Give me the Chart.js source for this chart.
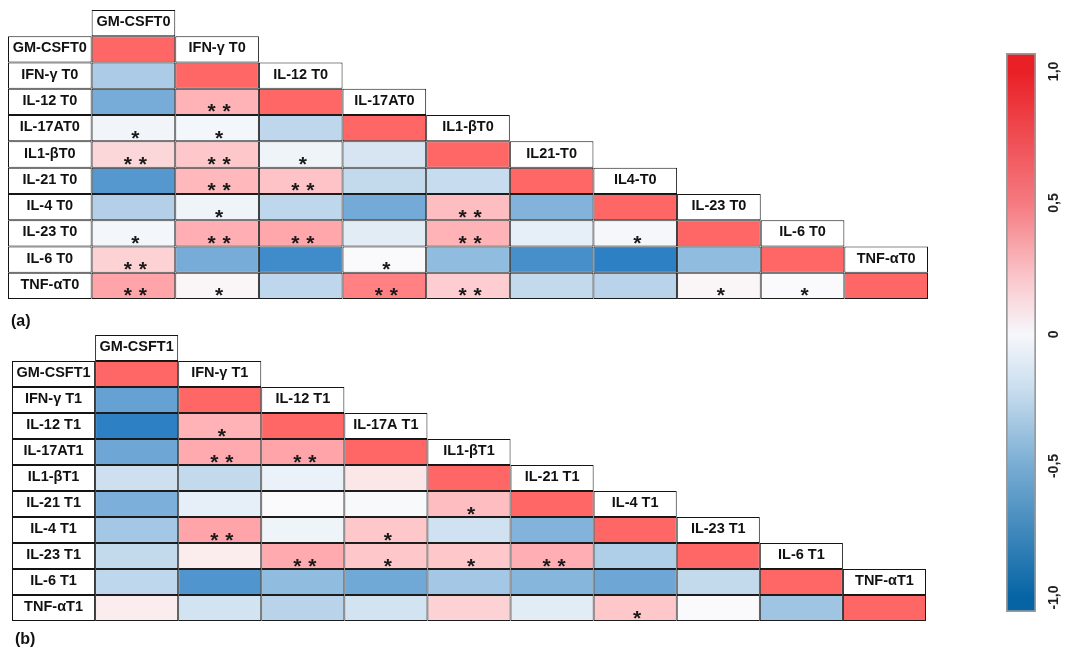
<!DOCTYPE html>
<html>
<head>
<meta charset="utf-8">
<title>Cytokine correlation matrices</title>
<script src="https://cdn.jsdelivr.net/npm/chart.js@4.4.1/dist/chart.umd.min.js"></script>
<style>
  html, body { margin: 0; padding: 0; background: #ffffff; }
  #wrap { position: relative; width: 1065px; height: 648px; overflow: hidden; }
  #wrap canvas { position: absolute; left: 0; top: 0; }
</style>
</head>
<body>
<div id="wrap">
  <canvas id="panelA" width="1065" height="648"></canvas>
  <canvas id="panelB" width="1065" height="648"></canvas>
  <canvas id="colorScale" width="1065" height="648"></canvas>
</div>
<script>
// ---- Variable names (row labels and diagonal header labels) ----
const rowNamesT0 = ['GM-CSFT0', 'IFN-γ T0', 'IL-12 T0', 'IL-17AT0', 'IL1-βT0', 'IL-21 T0', 'IL-4 T0', 'IL-23 T0', 'IL-6 T0', 'TNF-αT0'];
const colNamesT0 = ['GM-CSFT0', 'IFN-γ T0', 'IL-12 T0', 'IL-17AT0', 'IL1-βT0', 'IL21-T0', 'IL4-T0', 'IL-23 T0', 'IL-6 T0', 'TNF-αT0'];
const rowNamesT1 = ['GM-CSFT1', 'IFN-γ T1', 'IL-12 T1', 'IL-17AT1', 'IL1-βT1', 'IL-21 T1', 'IL-4 T1', 'IL-23 T1', 'IL-6 T1', 'TNF-αT1'];
const colNamesT1 = ['GM-CSFT1', 'IFN-γ T1', 'IL-12 T1', 'IL-17A T1', 'IL1-βT1', 'IL-21 T1', 'IL-4 T1', 'IL-23 T1', 'IL-6 T1', 'TNF-αT1'];

// ---- Correlation coefficients, lower triangle including the diagonal ----
const corrT0 = [
  [1],
  [-0.36, 1],
  [-0.59, 0.49, 1],
  [-0.04, -0.03, -0.27, 1],
  [0.24, 0.35, -0.05, -0.16, 1],
  [-0.74, 0.45, 0.38, -0.25, -0.23, 1],
  [-0.32, -0.05, -0.27, -0.61, 0.42, -0.54, 1],
  [-0.03, 0.52, 0.57, -0.11, 0.49, -0.09, -0.02, 1],
  [0.28, -0.59, -0.83, 0.00, -0.48, -0.80, -0.91, -0.48, 1],
  [0.59, 0.03, -0.27, 0.82, 0.31, -0.25, -0.30, 0.03, 0.00, 1]
];
const corrT1 = [
  [1],
  [-0.67, 1],
  [-0.91, 0.49, 1],
  [-0.63, 0.55, 0.59, 1],
  [-0.20, -0.25, -0.07, 0.14, 1],
  [-0.57, -0.09, 0.00, -0.01, 0.42, 1],
  [-0.39, 0.59, -0.05, 0.35, -0.19, -0.54, 1],
  [-0.25, 0.10, 0.55, 0.35, 0.35, 0.52, -0.34, 1],
  [-0.27, -0.76, -0.48, -0.62, -0.39, -0.52, -0.63, -0.25, 1],
  [0.10, -0.18, -0.30, -0.18, 0.28, -0.11, 0.35, 0.00, -0.41, 1]
];

// ---- Significance marks (* p<0.05, ** p<0.01) ----
const starsT0 = [
  [''],
  ['', ''],
  ['', '**', ''],
  ['*', '*', '', ''],
  ['**', '**', '*', '', ''],
  ['', '**', '**', '', '', ''],
  ['', '*', '', '', '**', '', ''],
  ['*', '**', '**', '', '**', '', '*', ''],
  ['**', '', '', '*', '', '', '', '', ''],
  ['**', '*', '', '**', '**', '', '', '*', '*', '']
];
const starsT1 = [
  [''],
  ['', ''],
  ['', '*', ''],
  ['', '**', '**', ''],
  ['', '', '', '', ''],
  ['', '', '', '', '*', ''],
  ['', '**', '', '*', '', '', ''],
  ['', '', '**', '*', '*', '**', '', ''],
  ['', '', '', '', '', '', '', '', ''],
  ['', '', '', '', '', '', '*', '', '', '']
];

// ---- Colour scale ----
const scaleTicks = [1, 0.5, 0, -0.5, -1];
const scaleTickLabels = ['1,0', '0,5', '0', '-0,5', '-1,0'];
const scaleLimits = [-1.055, 1.07];

const cellStops = [
  [-1.0, [25, 115, 190]],
  [-0.5, [140, 185, 222]],
  [0.0, [250, 250, 252]],
  [0.5, [255, 178, 182]],
  [1.0, [255, 102, 102]]
];
const barStops = [
  [1.0, 'rgb(233,32,38)'],
  [0.5, 'rgb(245,122,128)'],
  [0.2, 'rgb(250,202,207)'],
  [0.0, 'rgb(246,247,251)'],
  [-0.2, 'rgb(203,223,239)'],
  [-0.5, 'rgb(120,172,211)'],
  [-1.0, 'rgb(6,100,165)']
];

function cellColor(v) {
  if (v == null) return 'rgba(0,0,0,0)';
  for (let k = 0; k < cellStops.length - 1; k++) {
    const [v0, c0] = cellStops[k];
    const [v1, c1] = cellStops[k + 1];
    if (v >= v0 && v <= v1) {
      const t = (v - v0) / (v1 - v0);
      const c = c0.map((a, n) => Math.round(a + (c1[n] - a) * t));
      return `rgb(${c[0]},${c[1]},${c[2]})`;
    }
  }
  return v > 0 ? 'rgb(255,102,102)' : 'rgb(25,115,190)';
}

const FONT_FAMILY = '"Liberation Sans", Arial, Helvetica, sans-serif';

// Draws the label texts, significance stars and panel tag on top of the bars
const panelText = {
  id: 'panelText',
  afterDatasetsDraw(chart, args, opts) {
    const ctx = chart.ctx;
    ctx.save();

    // label boxes
    const boxData = chart.data.datasets[1].data;
    ctx.font = 'bold 14.5px ' + FONT_FAMILY;
    ctx.fillStyle = '#111111';
    ctx.textAlign = 'center';
    ctx.textBaseline = 'middle';
    chart.getDatasetMeta(1).data.forEach((el, k) => {
      const p = el.getProps(['x', 'y', 'base'], true);
      ctx.fillText(boxData[k].t, p.x, (p.y + p.base) / 2 - 1);
    });

    // significance stars
    const cellData = chart.data.datasets[0].data;
    ctx.font = 'bold 21px ' + FONT_FAMILY;
    ctx.fillStyle = '#1a1a1a';
    ctx.textBaseline = 'alphabetic';
    const m = ctx.measureText('*');
    const glyphShift = (m.actualBoundingBoxAscent - m.actualBoundingBoxDescent) / 2;
    chart.getDatasetMeta(0).data.forEach((el, k) => {
      const s = cellData[k].s;
      if (!s) return;
      const p = el.getProps(['x', 'y', 'base'], true);
      const cy = (p.y + p.base) / 2 + 6.5;
      const gap = 15;
      const x0 = p.x + 2 - (s.length - 1) * gap / 2;
      for (let n = 0; n < s.length; n++) {
        ctx.fillText('*', x0 + n * gap, cy + glyphShift);
      }
    });

    // panel tag
    ctx.font = 'bold 16px ' + FONT_FAMILY;
    ctx.fillStyle = '#111111';
    ctx.textAlign = 'left';
    ctx.textBaseline = 'middle';
    ctx.fillText(opts.tag, chart.chartArea.left + 3, chart.chartArea.bottom + opts.tagOffset);
    ctx.restore();
  }
};

function buildPanel(canvasId, rowNames, colNames, corr, stars, tag, tagOffset, pad) {
  const xKeys = ['names'].concat(colNames);
  const cells = [];
  corr.forEach((row, i) => row.forEach((v, j) => {
    cells.push({ x: colNames[j], y: [i - 0.5, i + 0.5], v: v, s: stars[i][j] });
  }));
  const boxes = [];
  rowNames.forEach((t, i) => boxes.push({ x: 'names', y: [i - 0.5, i + 0.5], t: t }));
  colNames.forEach((t, j) => boxes.push({ x: t, y: [j - 1.5, j - 0.5], t: t }));

  return new Chart(document.getElementById(canvasId), {
    type: 'bar',
    data: {
      labels: xKeys,
      datasets: [
        {
          data: cells,
          backgroundColor: (c) => cellColor(c.raw ? c.raw.v : null),
          borderColor: '#1c1c1c',
          borderWidth: 1
        },
        {
          data: boxes,
          backgroundColor: '#ffffff',
          borderColor: '#141414',
          borderWidth: 1
        }
      ]
    },
    options: {
      responsive: false,
      animation: false,
      events: [],
      layout: { padding: pad },
      datasets: {
        bar: { grouped: false, categoryPercentage: 1, barPercentage: 1, borderSkipped: false, inflateAmount: 0 }
      },
      plugins: {
        legend: { display: false },
        tooltip: { enabled: false },
        panelText: { tag: tag, tagOffset: tagOffset }
      },
      scales: {
        x: { type: 'category', labels: xKeys, offset: true, display: false },
        y: { type: 'linear', min: -1.5, max: 9.5, reverse: true, display: false }
      }
    },
    plugins: [panelText]
  });
}

buildPanel('panelA', rowNamesT0, colNamesT0, corrT0, starsT0, '(a)', 23,
  { left: 8, right: 137, top: 10, bottom: 349 });
buildPanel('panelB', rowNamesT1, colNamesT1, corrT1, starsT1, '(b)', 19,
  { left: 12, right: 139, top: 335, bottom: 27 });

// ---- Colour bar ----
const scaleText = {
  id: 'scaleText',
  afterDatasetsDraw(chart) {
    const ctx = chart.ctx;
    const ys = chart.scales.y;
    const area = chart.chartArea;
    ctx.save();
    ctx.font = 'bold 14px ' + FONT_FAMILY;
    ctx.fillStyle = '#222222';
    ctx.textAlign = 'center';
    ctx.textBaseline = 'middle';
    scaleTicks.forEach((v, k) => {
      ctx.save();
      ctx.translate(area.right + 18, ys.getPixelForValue(v));
      ctx.rotate(-Math.PI / 2);
      ctx.fillText(scaleTickLabels[k], 0, 0);
      ctx.restore();
    });
    ctx.restore();
  }
};

new Chart(document.getElementById('colorScale'), {
  type: 'bar',
  data: {
    labels: ['scale'],
    datasets: [{
      data: [scaleLimits],
      backgroundColor: (c) => {
        const chart = c.chart;
        if (!chart.chartArea) return 'rgba(0,0,0,0)';
        const ys = chart.scales.y;
        const top = ys.getPixelForValue(1);
        const bottom = ys.getPixelForValue(-1);
        const g = chart.ctx.createLinearGradient(0, top, 0, bottom);
        barStops.forEach(([v, col]) => g.addColorStop((1 - v) / 2, col));
        return g;
      },
      borderColor: '#9a9a9a',
      borderWidth: 2,
      borderSkipped: false,
      categoryPercentage: 1,
      barPercentage: 1
    }]
  },
  options: {
    responsive: false,
    animation: false,
    events: [],
    layout: { padding: { left: 1006, right: 29, top: 53, bottom: 36 } },
    plugins: { legend: { display: false }, tooltip: { enabled: false } },
    scales: {
      x: { type: 'category', offset: true, display: false },
      y: { type: 'linear', min: scaleLimits[0], max: scaleLimits[1], display: false }
    }
  },
  plugins: [scaleText]
});
</script>
</body>
</html>
